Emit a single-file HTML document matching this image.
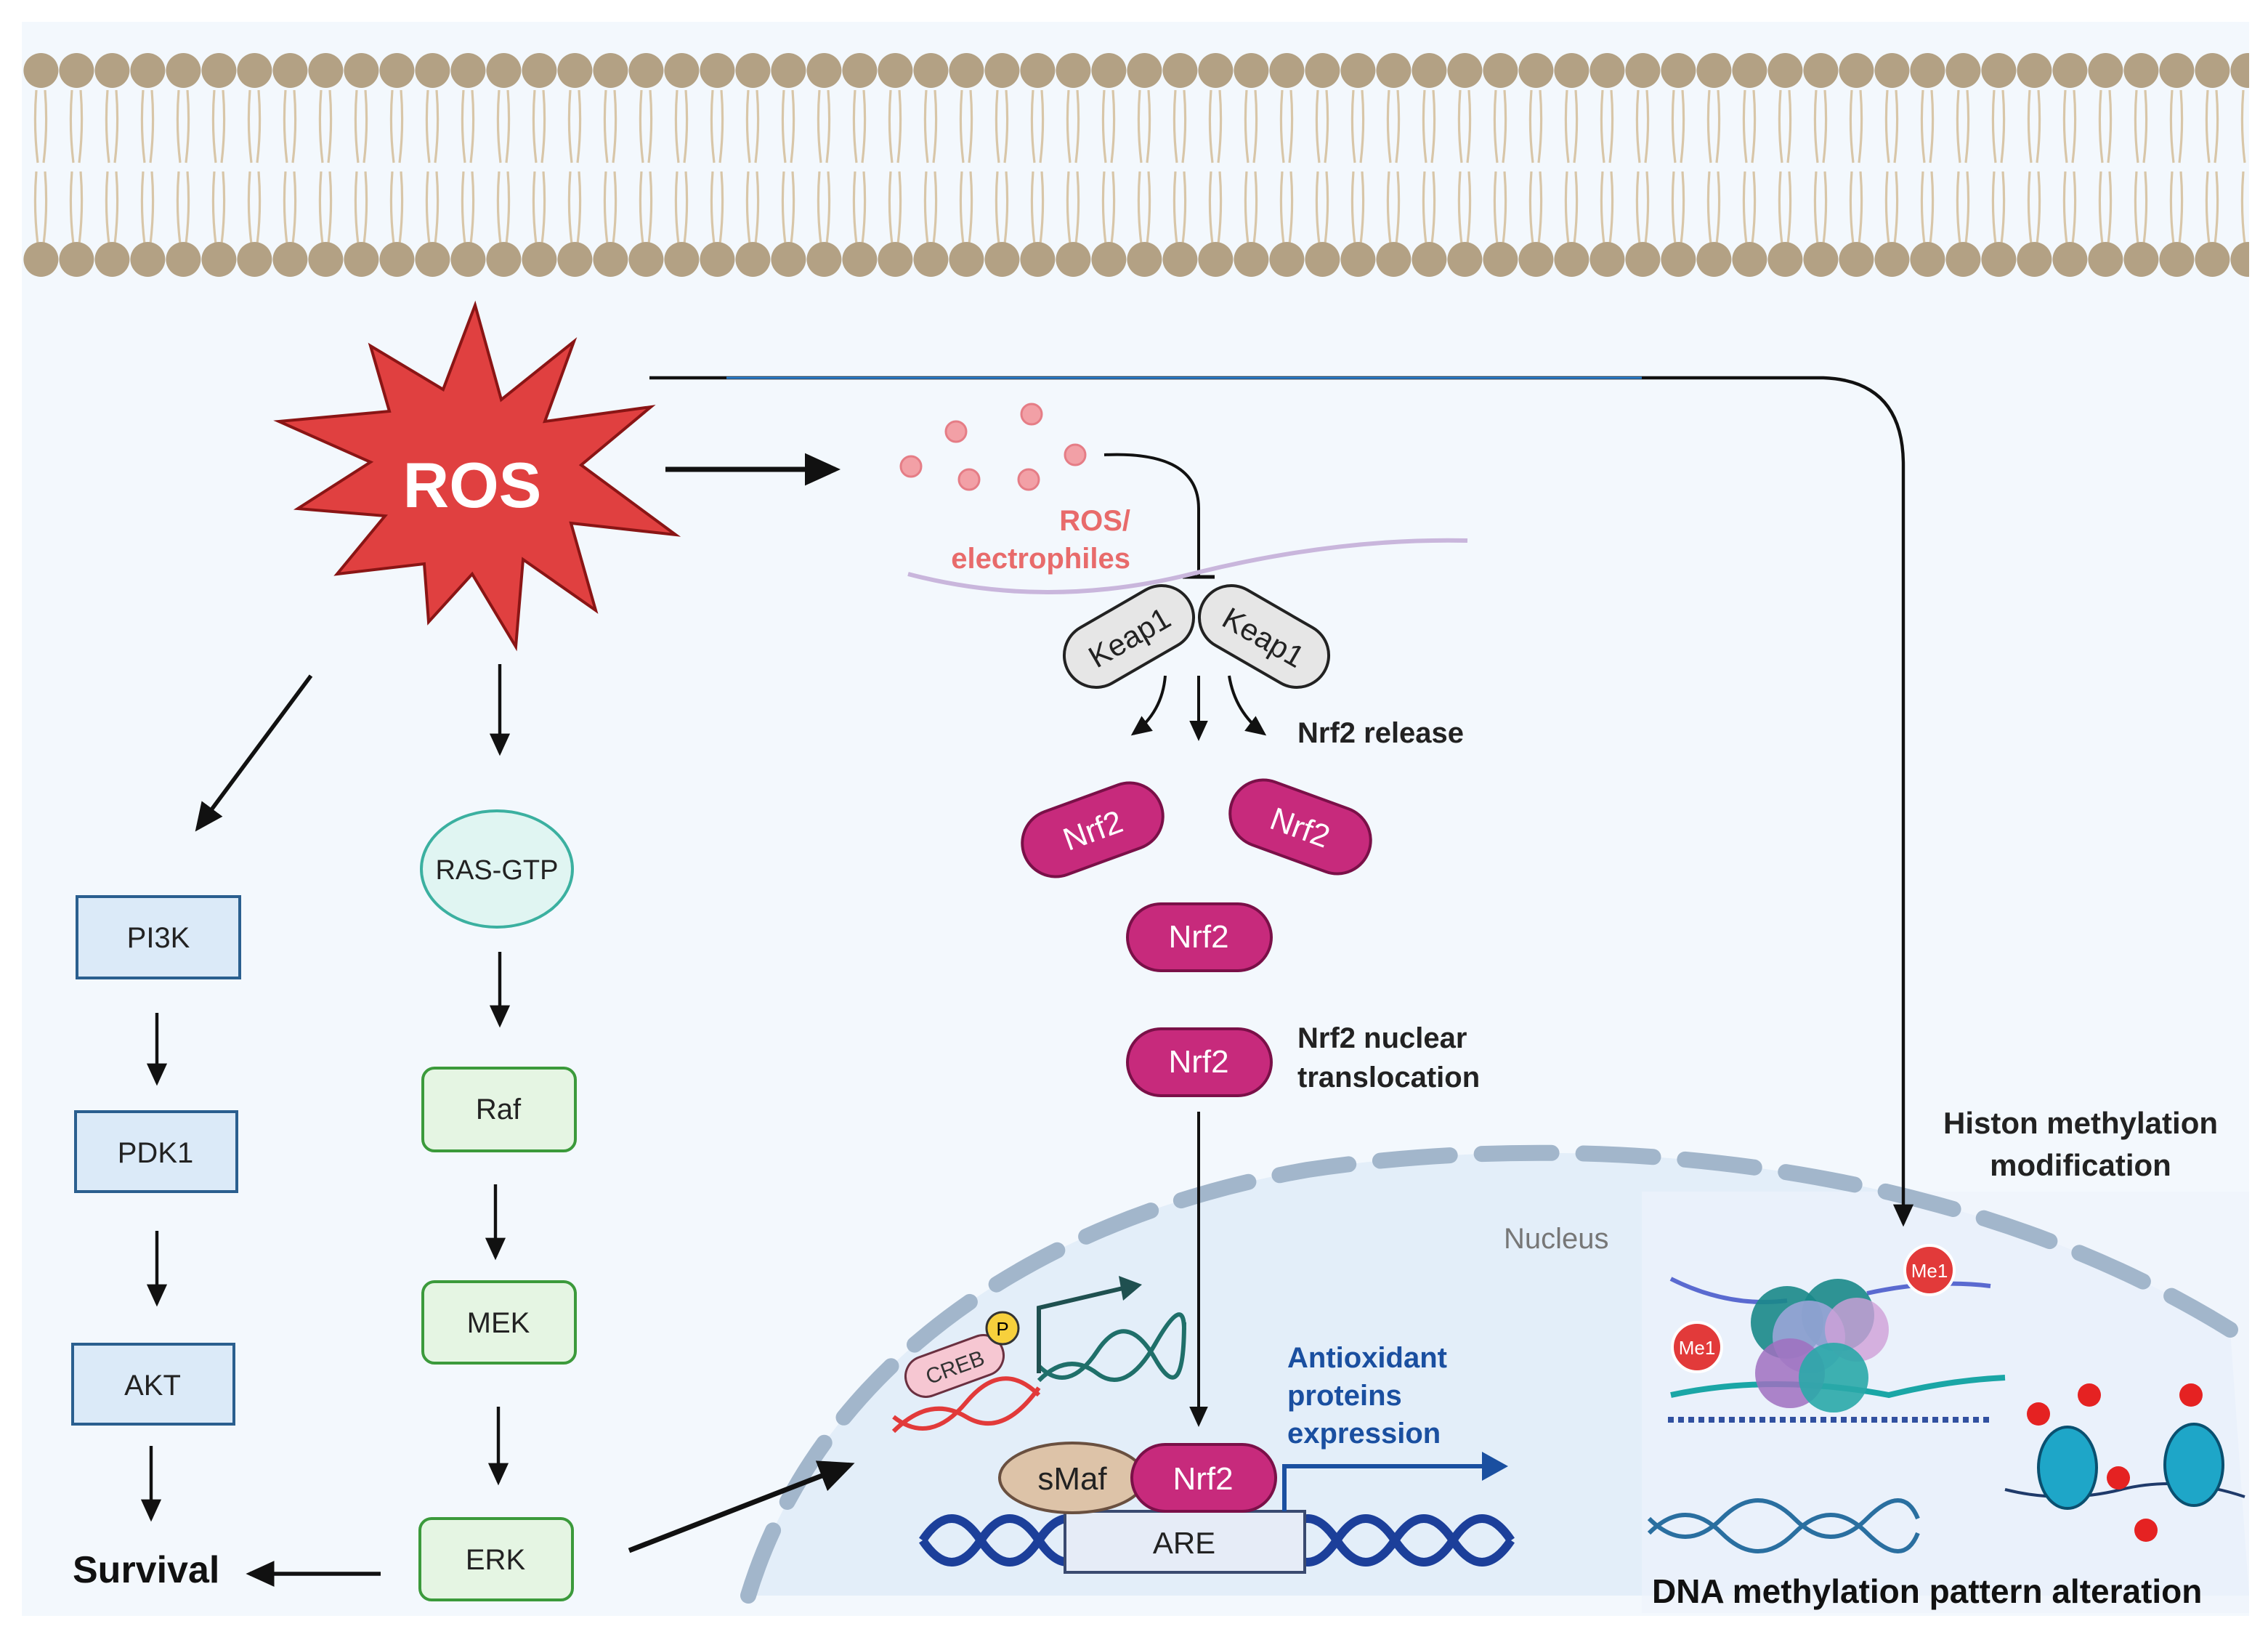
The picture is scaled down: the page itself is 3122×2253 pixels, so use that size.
<!DOCTYPE html>
<html><head><meta charset="utf-8"><style>html,body{margin:0;padding:0;background:#fff}svg{display:block}text{font-family:"Liberation Sans",sans-serif}</style></head><body>
<svg width="3122" height="2253" viewBox="0 0 1561 1126.5" xmlns="http://www.w3.org/2000/svg">
<defs>
<marker id="ah" markerWidth="8" markerHeight="8" refX="6" refY="4" orient="auto" markerUnits="strokeWidth"><path d="M0,0.8 L7,4 L0,7.2 Z" fill="#111"/></marker>
<pattern id="tails" width="24.5" height="60" patternUnits="userSpaceOnUse" x="16" y="62">
<path d="M9,0 Q7,25 10,50 M15,0 Q17,25 14,50" stroke="#d8c6a8" stroke-width="1.6" fill="none"/></pattern>
<pattern id="tails2" width="24.5" height="60" patternUnits="userSpaceOnUse" x="16" y="118">
<path d="M9,0 Q7,25 10,50 M15,0 Q17,25 14,50" stroke="#d8c6a8" stroke-width="1.6" fill="none"/></pattern>
<pattern id="heads" width="24.5" height="30" patternUnits="userSpaceOnUse" x="16" y="36">
<circle cx="12.2" cy="12.5" r="12" fill="#b3a184"/></pattern>
<pattern id="heads2" width="24.5" height="30" patternUnits="userSpaceOnUse" x="16" y="166">
<circle cx="12.2" cy="12.5" r="12" fill="#b3a184"/></pattern>
</defs>
<rect width="1561" height="1126.5" fill="#fff"/>
<rect x="15" y="15" width="1533" height="1097" fill="#f3f8fd"/>
<!-- membrane -->
<rect x="16" y="62" width="1532" height="52" fill="url(#tails)"/>
<rect x="16" y="118" width="1532" height="52" fill="url(#tails2)"/>
<rect x="16" y="36" width="1532" height="25" fill="url(#heads)"/>
<rect x="16" y="166" width="1532" height="25" fill="url(#heads2)"/>
<!-- nucleus -->
<path d="M515,1098 C560,950 700,840 900,805 C1100,775 1350,800 1535,915 L1548,1098 Z" fill="#e3eef9"/>
<rect x="1130" y="820" width="418" height="290" fill="#eef4fb" opacity="0.6"/>
<path d="M515,1098 C560,950 700,840 900,805 C1100,775 1350,800 1535,915" fill="none" stroke="#a2b6cb" stroke-width="11" stroke-dasharray="48 22" stroke-linecap="round"/>
<text x="1035" y="859" font-size="20" fill="#777">Nucleus</text>
<!-- ROS star -->
<polygon points="327,210 345,275 395,235 375,290 448,280 400,320 465,368 393,360 410,420 360,385 355,445 325,395 295,428 292,388 232,395 265,355 205,350 255,318 192,290 268,283 255,238 305,268" fill="#e04040" stroke="#8a1515" stroke-width="2"/>
<text x="325" y="349" font-size="44" font-weight="bold" fill="#fff" text-anchor="middle">ROS</text>
<!-- top connector -->
<path d="M447,260 L1255,260 Q1310,262 1310,320 L1310,842" fill="none" stroke="#111" stroke-width="2.2" marker-end="url(#ah)"/>
<line x1="500" y1="260" x2="1130" y2="260" stroke="#2a7fd0" stroke-width="1.5"/>
<line x1="458" y1="323" x2="575" y2="323" stroke="#111" stroke-width="3.5" marker-end="url(#ah)"/>
<!-- dots -->
<g fill="#f2a0a6" stroke="#e57d86" stroke-width="1.5">
<circle cx="658" cy="297" r="7"/><circle cx="710" cy="285" r="7"/><circle cx="627" cy="321" r="7"/><circle cx="667" cy="330" r="7"/><circle cx="708" cy="330" r="7"/><circle cx="740" cy="313" r="7"/></g>
<path d="M760,313 Q825,310 825,350 L825,397" fill="none" stroke="#111" stroke-width="2"/>
<line x1="814" y1="397" x2="836" y2="397" stroke="#111" stroke-width="2.5"/>
<text x="778" y="365" font-size="20" font-weight="bold" fill="#e86b6b" text-anchor="end">ROS/</text>
<text x="778" y="391" font-size="20" font-weight="bold" fill="#e86b6b" text-anchor="end">electrophiles</text>
<path d="M625,395 Q720,420 820,395 Q920,370 1010,372" fill="none" stroke="#c9b6dc" stroke-width="3"/>
<!-- Keap1 -->
<g transform="translate(777,438) rotate(-30)"><rect x="-48" y="-22" width="96" height="44" rx="22" fill="#e6e6e6" stroke="#222" stroke-width="2"/><text y="8" font-size="21" text-anchor="middle" fill="#222">Keap1</text></g>
<g transform="translate(870,438) rotate(30)"><rect x="-48" y="-22" width="96" height="44" rx="22" fill="#e6e6e6" stroke="#222" stroke-width="2"/><text y="8" font-size="21" text-anchor="middle" fill="#222">Keap1</text></g>
<path d="M802,465 Q800,490 780,505" fill="none" stroke="#111" stroke-width="2" marker-end="url(#ah)"/>
<line x1="825" y1="465" x2="825" y2="508" stroke="#111" stroke-width="2" marker-end="url(#ah)"/>
<path d="M846,465 Q850,490 870,505" fill="none" stroke="#111" stroke-width="2" marker-end="url(#ah)"/>
<text x="893" y="511" font-size="20" font-weight="bold" fill="#222">Nrf2 release</text>
<!-- Nrf2 -->
<g transform="translate(752,571) rotate(-20)"><rect x="-50" y="-23" width="100" height="46" rx="23" fill="#c72a7c" stroke="#7a1048" stroke-width="2"/><text y="8" font-size="22" text-anchor="middle" fill="#fff">Nrf2</text></g>
<g transform="translate(895,569) rotate(20)"><rect x="-50" y="-23" width="100" height="46" rx="23" fill="#c72a7c" stroke="#7a1048" stroke-width="2"/><text y="8" font-size="22" text-anchor="middle" fill="#fff">Nrf2</text></g>
<rect x="776" y="622" width="99" height="46" rx="23" fill="#c72a7c" stroke="#7a1048" stroke-width="2"/><text x="825" y="652" font-size="22" text-anchor="middle" fill="#fff">Nrf2</text>
<rect x="776" y="708" width="99" height="46" rx="23" fill="#c72a7c" stroke="#7a1048" stroke-width="2"/><text x="825" y="738" font-size="22" text-anchor="middle" fill="#fff">Nrf2</text>
<text x="893" y="721" font-size="20" font-weight="bold" fill="#222">Nrf2 nuclear</text>
<text x="893" y="748" font-size="20" font-weight="bold" fill="#222">translocation</text>
<line x1="825" y1="765" x2="825" y2="980" stroke="#111" stroke-width="2" marker-end="url(#ah)"/>
<!-- DNA bottom -->
<path d="M635,1060 Q655,1030 675,1060 T715,1060 T755,1060 M880,1060 Q900,1030 920,1060 T960,1060 T1000,1060 T1040,1060" fill="none" stroke="#1c3f9a" stroke-width="6"/>
<path d="M635,1060 Q655,1090 675,1060 T715,1060 T755,1060 M880,1060 Q900,1090 920,1060 T960,1060 T1000,1060 T1040,1060" fill="none" stroke="#1c3f9a" stroke-width="6"/>
<rect x="733" y="1040" width="165" height="42" fill="#e6ecf7" stroke="#3a4a70" stroke-width="2"/>
<text x="815" y="1069" font-size="21" text-anchor="middle" fill="#222">ARE</text>
<ellipse cx="738" cy="1017" rx="50" ry="24" fill="#ddc3a8" stroke="#6a5040" stroke-width="2"/><text x="738" y="1025" font-size="22" text-anchor="middle" fill="#222">sMaf</text>
<rect x="779" y="994" width="99" height="46" rx="23" fill="#c72a7c" stroke="#7a1048" stroke-width="2"/><text x="828" y="1025" font-size="22" text-anchor="middle" fill="#fff">Nrf2</text>
<path d="M884,1040 L884,1009 L1025,1009" fill="none" stroke="#1a4fa0" stroke-width="3"/>
<path d="M1020,999 L1038,1009 L1020,1019 Z" fill="#1a4fa0"/>
<text x="886" y="941" font-size="20" font-weight="bold" fill="#1a4fa0">Antioxidant</text>
<text x="886" y="967" font-size="20" font-weight="bold" fill="#1a4fa0">proteins</text>
<text x="886" y="993" font-size="20" font-weight="bold" fill="#1a4fa0">expression</text>
<!-- CREB -->
<path d="M615,985 Q640,960 665,975 T715,955 M615,975 Q640,995 665,965 T715,960" fill="none" stroke="#e23a3a" stroke-width="3"/>
<path d="M715,950 Q735,930 755,945 T795,925 T815,915 M715,940 Q735,960 755,930 T795,935 T815,910" fill="none" stroke="#1f6f6a" stroke-width="3"/>
<g transform="translate(657,940) rotate(-20)"><rect x="-35" y="-14" width="70" height="28" rx="14" fill="#f6c7d2" stroke="#6a3040" stroke-width="1.5"/><text y="6" font-size="15" text-anchor="middle" fill="#333">CREB</text></g>
<circle cx="690" cy="914" r="11" fill="#f7d03c" stroke="#333" stroke-width="1.5"/><text x="690" y="919" font-size="13" text-anchor="middle">P</text>
<path d="M715,945 L715,900 L775,886" fill="none" stroke="#1f5050" stroke-width="3"/>
<path d="M770,878 L786,884 L773,895 Z" fill="#1f5050"/>
<!-- right histone -->
<text x="1432" y="780" font-size="21" font-weight="bold" fill="#222" text-anchor="middle">Histon methylation</text>
<text x="1432" y="809" font-size="21" font-weight="bold" fill="#222" text-anchor="middle">modification</text>
<path d="M1150,880 Q1190,900 1230,895 M1285,890 Q1330,880 1370,885" fill="none" stroke="#5a6ad0" stroke-width="3"/>
<path d="M1150,960 Q1220,945 1300,960 Q1340,950 1380,948" fill="none" stroke="#1aa6a6" stroke-width="4"/>
<path d="M1148,977 L1372,977" stroke="#3050a0" stroke-width="4" stroke-dasharray="4 3"/>
<circle cx="1230" cy="910" r="25" fill="#1a8888" opacity="0.9"/><circle cx="1265" cy="905" r="25" fill="#1a8888" opacity="0.9"/>
<circle cx="1245" cy="920" r="25" fill="#a8a8e0" opacity="0.8"/><circle cx="1278" cy="915" r="22" fill="#d0a0d8" opacity="0.8"/>
<circle cx="1232" cy="945" r="24" fill="#a070c0" opacity="0.85"/><circle cx="1262" cy="948" r="24" fill="#2aa8a8" opacity="0.9"/>
<circle cx="1168" cy="927" r="17" fill="#e23a3a" stroke="#fff" stroke-width="2"/><text x="1168" y="932" font-size="13" fill="#fff" text-anchor="middle">Me1</text>
<circle cx="1328" cy="874" r="17" fill="#e23a3a" stroke="#fff" stroke-width="2"/><text x="1328" y="879" font-size="13" fill="#fff" text-anchor="middle">Me1</text>
<path d="M1380,1025 Q1420,1035 1460,1025 Q1500,1015 1545,1030" fill="none" stroke="#1f3a6a" stroke-width="2"/>
<ellipse cx="1423" cy="1010" rx="20" ry="28" fill="#1ea6c8" stroke="#0a5070" stroke-width="2"/>
<ellipse cx="1510" cy="1008" rx="20" ry="28" fill="#1ea6c8" stroke="#0a5070" stroke-width="2"/>
<g fill="#e52222"><circle cx="1403" cy="973" r="8"/><circle cx="1438" cy="960" r="8"/><circle cx="1458" cy="1017" r="8"/><circle cx="1477" cy="1053" r="8"/><circle cx="1508" cy="960" r="8"/></g>
<path d="M1135,1045 Q1160,1070 1185,1045 T1235,1045 T1285,1045 T1320,1045 M1135,1055 Q1160,1030 1185,1055 T1235,1055 T1285,1055 T1320,1055" fill="none" stroke="#2a6fa0" stroke-width="3"/>
<text x="1137" y="1103" font-size="23" font-weight="bold" fill="#111">DNA methylation pattern alteration</text>
<!-- left pathways -->
<g stroke="#111" stroke-width="2.2" marker-end="url(#ah)">
<line x1="214" y1="465" x2="136" y2="570" stroke-width="2.8"/>
<line x1="344" y1="457" x2="344" y2="518"/>
<line x1="108" y1="697" x2="108" y2="745"/>
<line x1="108" y1="847" x2="108" y2="897"/>
<line x1="104" y1="995" x2="104" y2="1045"/>
<line x1="344" y1="655" x2="344" y2="705"/>
<line x1="341" y1="815" x2="341" y2="865"/>
<line x1="343" y1="968" x2="343" y2="1020"/>
<line x1="262" y1="1083" x2="172" y2="1083" stroke-width="2.8"/>
<line x1="433" y1="1067" x2="585" y2="1008" stroke-width="3.5"/>
</g>
<g fill="#dbeaf8" stroke="#2a5f8f" stroke-width="2">
<rect x="53" y="617" width="112" height="56"/><rect x="52" y="765" width="111" height="55"/><rect x="50" y="925" width="111" height="55"/></g>
<g font-size="20" text-anchor="middle" fill="#222">
<text x="109" y="652">PI3K</text><text x="107" y="800">PDK1</text><text x="105" y="960">AKT</text></g>
<ellipse cx="342" cy="598" rx="52" ry="40" fill="#e0f5f2" stroke="#3bb0a0" stroke-width="2"/>
<text x="342" y="605" font-size="19" text-anchor="middle" fill="#222">RAS-GTP</text>
<g fill="#e5f5e3" stroke="#3b9a3b" stroke-width="2">
<rect x="291" y="735" width="105" height="57" rx="8"/><rect x="291" y="882" width="105" height="56" rx="8"/><rect x="289" y="1045" width="105" height="56" rx="8"/></g>
<g font-size="20" text-anchor="middle" fill="#222">
<text x="343" y="770">Raf</text><text x="343" y="917">MEK</text><text x="341" y="1080">ERK</text></g>
<text x="50" y="1089" font-size="26" font-weight="bold" fill="#111">Survival</text>
</svg>
</body></html>
